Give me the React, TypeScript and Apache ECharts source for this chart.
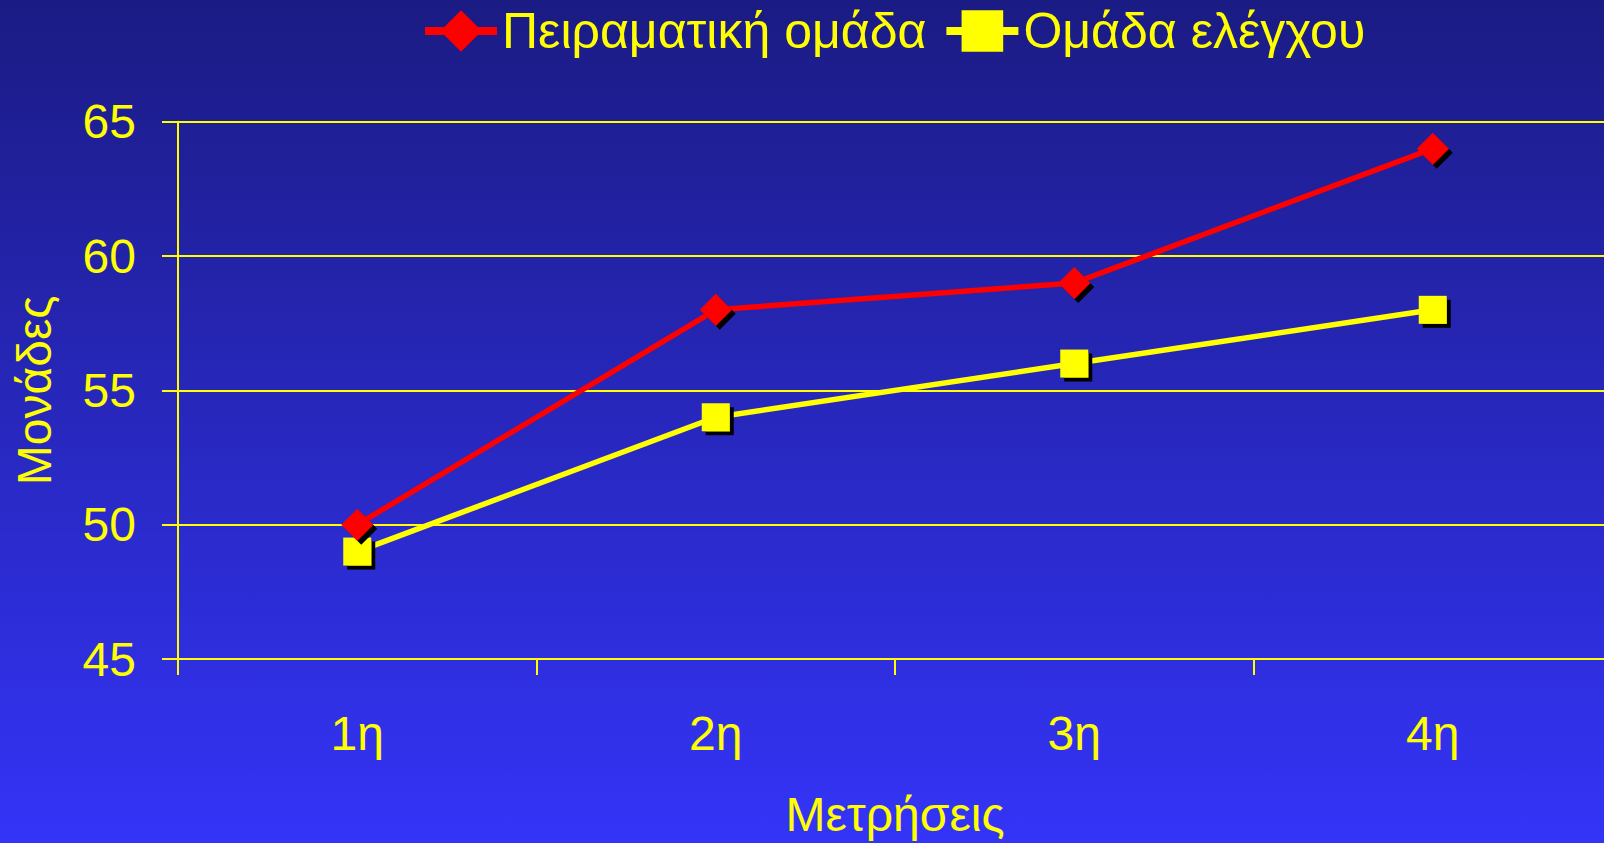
import React, { useEffect, useRef } from "react";
import * as echarts from "echarts";

const categories = ["1η", "2η", "3η", "4η"];
const experimental = [50, 58, 59, 64];
const control = [49, 54, 56, 58];
const seriesNames = ["Πειραματική ομάδα", "Ομάδα ελέγχου"];
const yTicks = { min: 45, max: 65, interval: 5 };

export default function App() {
  const ref = useRef<HTMLDivElement>(null);
  useEffect(() => {
    document.body.style.margin = "0";
    document.body.style.overflow = "hidden";
    if (!ref.current) return;
    const chart = echarts.init(ref.current, null, { renderer: "svg" });
    const font = "'Liberation Sans', Arial, sans-serif";
    const yellow = "#ffff00";
    chart.setOption({
      animation: false,
      backgroundColor: {
        type: "linear",
        x: 0,
        y: 0,
        x2: 0,
        y2: 1,
        colorStops: [
          { offset: 0, color: "#1b1b84" },
          { offset: 1, color: "#3434f8" },
        ],
      },
      legend: {
        top: 1,
        left: 416,
        itemWidth: 72,
        itemHeight: 52,
        itemGap: 16,
        lineStyle: { width: 8 },
        textStyle: { color: yellow, fontSize: 50, fontFamily: font },
        data: seriesNames,
      },
      grid: { left: 178, right: 8, top: 121.8, bottom: 843 - 660, containLabel: false },
      xAxis: {
        type: "category",
        data: categories,
        boundaryGap: true,
        name: "Μετρήσεις",
        nameLocation: "middle",
        nameGap: 131,
        nameTextStyle: { color: yellow, fontSize: 48, fontFamily: font },
        axisLine: { show: true, lineStyle: { color: yellow, width: 2 } },
        axisTick: { show: true, length: 16, inside: false, lineStyle: { color: yellow, width: 2 } },
        axisLabel: { color: yellow, fontSize: 48, fontFamily: font, margin: 50 },
        splitLine: { show: false },
      },
      yAxis: {
        type: "value",
        min: yTicks.min,
        max: yTicks.max,
        interval: yTicks.interval,
        name: "Μονάδες",
        nameLocation: "middle",
        nameGap: 120,
        nameTextStyle: { color: yellow, fontSize: 48, fontFamily: font },
        axisLine: { show: true, lineStyle: { color: yellow, width: 2 } },
        axisTick: { show: true, length: 16, lineStyle: { color: yellow, width: 2 } },
        axisLabel: { color: yellow, fontSize: 48, fontFamily: font, margin: 42 },
        splitLine: { show: true, lineStyle: { color: yellow, width: 2 } },
      },
      series: [
        {
          name: seriesNames[0],
          type: "line",
          data: experimental,
          symbol: "diamond",
          symbolSize: [32, 32],
          color: "#ff0000",
          lineStyle: { color: "#ff0000", width: 5.5 },
          itemStyle: {
            color: "#ff0000",
            shadowColor: "#000000",
            shadowOffsetX: 4,
            shadowOffsetY: 4,
            shadowBlur: 0,
          },
          z: 3,
        },
        {
          name: seriesNames[1],
          type: "line",
          data: control,
          symbol: "rect",
          symbolSize: 28,
          color: yellow,
          lineStyle: { color: yellow, width: 5.5 },
          itemStyle: {
            color: yellow,
            shadowColor: "#000000",
            shadowOffsetX: 4,
            shadowOffsetY: 4,
            shadowBlur: 0,
          },
          z: 2,
        },
      ],
    });
    return () => chart.dispose();
  }, []);
  return <div ref={ref} style={{ width: 1620, height: 843 }} />;
}
